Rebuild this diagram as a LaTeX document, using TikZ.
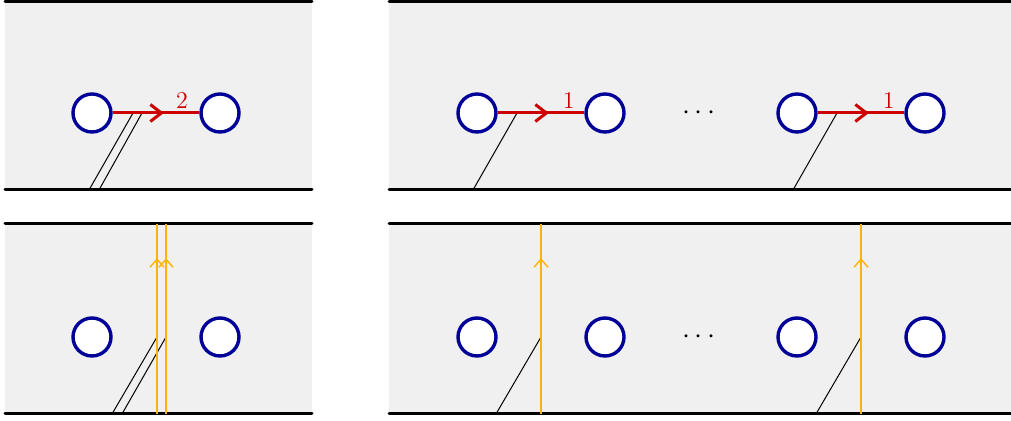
\documentclass[tikz,border=0pt]{standalone}
\usepackage{tikz}
\usetikzlibrary{arrows.meta,decorations.markings,positioning}
\definecolor{PanelGray}{RGB}{240,240,240}
\definecolor{HoleBlue}{RGB}{0,0,153}
\definecolor{ArcRed}{RGB}{204,0,0}
\definecolor{CutGold}{RGB}{255,178,0}

\begin{document}
\begin{tikzpicture}[x=0.5pt,y=0.5pt,
    hole/.style={circle,draw=HoleBlue,line width=1.7pt,fill=white,
      minimum size=19pt,inner sep=0pt},
    boundary/.style={line width=1.5pt,line cap=round},
    arc/.style={ArcRed,line width=1.5pt,postaction={decorate},
      decoration={markings,mark=at position 0.59 with
        {\arrow{Straight Barb[length=5.5pt,width=8.5pt]}}}},
    cut/.style={CutGold,line width=0.7pt,postaction={decorate},
      decoration={markings,mark=at position 0.82 with
        {\arrow{Straight Barb[length=4pt,width=7pt]}}}},
    strand/.style={black,line width=0.5pt},
    weight/.style={ArcRed,font=\large,above,inner sep=1.5pt}
  ]
  \useasboundingbox (0,0) rectangle (1011,421);

  % panels
  \foreach \xa/\xb in {5/312,389/1011}{
    \fill[PanelGray] (\xa,231) rectangle (\xb,419.5);
    \fill[PanelGray] (\xa,7) rectangle (\xb,197);
    \draw[boundary] (\xa,419.5) -- (\xb,419.5);
    \draw[boundary] (\xa,231) -- (\xb,231);
    \draw[boundary] (\xa,197) -- (\xb,197);
    \draw[boundary] (\xa,7) -- (\xb,7);
  }

  % top left: double strand
  \coordinate (sa) at (89,231);
  \coordinate (sb) at (99,231);
  \coordinate (ta) at (133,308);
  \coordinate (tb) at (142,308);
  \draw[strand] (sa) -- (ta);
  \draw[strand] (sb) -- (tb);
  \node[hole] (a1) at (92,308) {};
  \node[hole] (a2) at (220,308) {};
  \draw[arc] (a1) -- node[weight,pos=0.8] {2} (a2);

  % top right
  \foreach \dx/\n in {0/1,320/2}{
    \coordinate (s\n) at (473+\dx,231);
    \coordinate (t\n) at (517+\dx,308);
    \draw[strand] (s\n) -- (t\n);
    \node[hole] (b\n) at (477+\dx,308) {};
    \node[hole] (c\n) at (605+\dx,308) {};
    \draw[arc] (b\n) -- node[weight,pos=0.82] {1} (c\n);
  }
  \node[font=\Large,inner sep=0pt] (dtop) at (699,308) {$\cdots$};

  % bottom left: double cut
  \coordinate (ua) at (112,7);
  \coordinate (ub) at (122,7);
  \coordinate (va) at (157,84);
  \coordinate (vb) at (166,84);
  \coordinate (wa) at (157,197);
  \coordinate (wb) at (166,197);
  \draw[strand] (ua) -- (va);
  \draw[strand] (ub) -- (vb);
  \draw[cut] (157,7) -- (wa);
  \draw[cut] (166,7) -- (wb);
  \node[hole] (d1) at (92,84) {};
  \node[hole] (d2) at (220,84) {};

  % bottom right
  \foreach \dx/\n in {0/1,320/2}{
    \coordinate (p\n) at (496+\dx,7);
    \coordinate (q\n) at (541+\dx,84);
    \coordinate (r\n) at (541+\dx,197);
    \draw[strand] (p\n) -- (q\n);
    \draw[cut] (541+\dx,7) -- (r\n);
    \node[hole] (e\n) at (477+\dx,84) {};
    \node[hole] (f\n) at (605+\dx,84) {};
  }
  \node[font=\Large,inner sep=0pt] (dbot) at (699,84) {$\cdots$};
\end{tikzpicture}
\end{document}
